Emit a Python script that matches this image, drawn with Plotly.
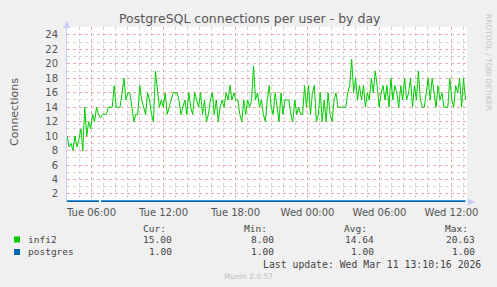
import pandas as pd
import plotly.graph_objects as go

# ---------------- data ----------------
infi2 = [
    10, 8.5, 9, 8, 10, 8.5, 9.5, 11, 8,
    14, 10, 12, 11, 13, 12, 14,
    13, 12.5, 13, 13, 13, 14, 14, 14,
    17, 14, 14, 14,
    16, 18, 15, 16, 16, 14,
    12, 13, 13,
    17, 15, 14, 13, 16, 15, 13, 12,
    19, 16, 14, 15, 14, 16, 13,
    14, 15, 16, 16, 16, 15, 13,
    14, 15, 13, 16, 14, 13, 16, 15, 14, 16, 13, 15,
    12, 13, 15, 16, 13, 15, 12, 14,
    15, 14, 16, 15, 17, 15, 16,
    15, 15, 13, 12, 15, 13, 15, 14, 15,
    19.7, 15, 16, 14, 15, 13, 12, 15, 17,
    14, 13, 16, 14, 12, 16, 13,
    15, 15, 15,
    13, 12, 15, 13, 14, 13, 13,
    17, 14, 17, 13, 16, 17, 12, 13, 16, 12, 15, 12, 16, 13, 12,
    15, 16, 14,
    14, 14, 14, 14,
    16, 17, 20.63, 16, 18, 15, 17,
    15, 17, 14, 16, 15,
    18, 16, 19, 17, 14, 16,
    17, 15, 17, 14, 18, 15, 17, 16, 14, 17, 15,
    18, 15, 16, 18, 14, 17, 15, 19,
    15, 14, 14, 16, 18, 15, 18,
    16, 14, 17, 15, 16, 14,
    14, 14, 18, 15,
    14, 17, 16, 18, 14, 18, 15,
]
postgres_times = ["2026-03-10 03:58", "2026-03-10 06:38", None,
                  "2026-03-10 06:48", "2026-03-11 13:10"]
postgres = [1, 1, None, 1, 1]

series_start = "2026-03-10 03:58"
series_end = "2026-03-11 13:10"
x_start = "2026-03-10 03:57:30"
x_end = "2026-03-11 13:17:30"
y_range = [0.88, 25.1]

title = "PostgreSQL connections per user - by day"
y_title = "Connections"
legend_names = ["infi2", "postgres"]
legend_colors = ["#00cc00", "#0066b3"]
stat_headers = ["Cur:", "Min:", "Avg:", "Max:"]
stats = [["15.00", "8.00", "14.64", "20.63"],
         ["1.00", "1.00", "1.00", "1.00"]]
last_update = "Last update: Wed Mar 11 13:10:16 2026"
footer = "Munin 2.0.57"
side_text = "RRDTOOL / TOBI OETIKER"

# ---------------- layout geometry ----------------
W, H = 497, 287
L, R, T, B = 67, 30, 27, 85
PW, PH = W - L - R, H - T - B


def px(x):
    return (x - L) / PW


def py(y):
    return (H - B - y) / PH


times = pd.date_range(series_start, series_end, periods=len(infi2))

fig = go.Figure()
fig.add_trace(go.Scatter(x=postgres_times, y=postgres, mode="lines",
                         line=dict(color=legend_colors[1], width=2),
                         connectgaps=False, hoverinfo="skip"))
fig.add_trace(go.Scatter(x=times, y=infi2, mode="lines",
                         line=dict(color=legend_colors[0], width=1),
                         hoverinfo="skip"))

grid_minor = "#d2d2d2"
grid_major = "#eda8a8"
font_main = "DejaVu Sans"
font_mono = "DejaVu Sans Mono"
txt = "#555555"

fig.update_layout(
    width=W, height=H,
    margin=dict(l=L, r=R, t=T, b=B, pad=0),
    paper_bgcolor="#f0f0f0", plot_bgcolor="#ffffff",
    showlegend=False,
    font=dict(family=font_main, size=10, color=txt),
    xaxis=dict(
        type="date", range=[x_start, x_end],
        tick0="2026-03-10 06:00", dtick=6 * 3600000,
        tickformat="%a %H:%M", ticks="", ticklabelstandoff=3,
        tickfont=dict(family=font_main, size=10, color=txt),
        showgrid=True, gridcolor=grid_major, griddash="dot", gridwidth=1,
        minor=dict(dtick=3600000, tick0="2026-03-10 06:00", showgrid=True,
                   gridcolor=grid_minor, griddash="dot", gridwidth=1),
        showline=False, zeroline=False, fixedrange=True,
    ),
    yaxis=dict(
        range=y_range, tick0=0, dtick=2, ticks="", ticklabelstandoff=6,
        tickfont=dict(family=font_main, size=10, color=txt),
        showgrid=True, gridcolor=grid_major, griddash="dot", gridwidth=1,
        minor=dict(dtick=1, tick0=0, showgrid=True,
                   gridcolor=grid_minor, griddash="dot", gridwidth=1),
        showline=True, linecolor="#c8ccff", linewidth=1,
        zeroline=False, fixedrange=True,
    ),
)

shapes = []
# axis arrows
shapes.append(dict(type="path", xref="paper", yref="paper",
                   path=f"M {px(63.5)} {py(28)} L {px(70.5)} {py(28)} L {px(67)} {py(21)} Z",
                   fillcolor="#c8ccff", line=dict(width=0)))
shapes.append(dict(type="path", xref="paper", yref="paper",
                   path=f"M {px(468)} {py(198.5)} L {px(468)} {py(205.5)} L {px(475)} {py(202)} Z",
                   fillcolor="#c8ccff", line=dict(width=0)))
# legend squares
for i, c in enumerate(legend_colors):
    cy = 239.5 + i * 12.5
    shapes.append(dict(type="rect", xref="paper", yref="paper",
                       x0=px(14), x1=px(20), y0=py(cy - 3), y1=py(cy + 3),
                       fillcolor=c, line=dict(width=0)))
fig.update_layout(shapes=shapes)

ann = []
ann.append(dict(text=title, x=px(250), y=py(19), xref="paper", yref="paper",
                showarrow=False, xanchor="center", yanchor="middle",
                font=dict(family=font_main, size=12.5, color="#555555")))
ann.append(dict(text=y_title, x=px(14), y=py(112), xref="paper", yref="paper",
                showarrow=False, textangle=-90, xanchor="center", yanchor="middle",
                font=dict(family=font_main, size=11, color="#555555")))
ann.append(dict(text=side_text, x=px(488), y=py(62), xref="paper", yref="paper",
                showarrow=False, textangle=90, xanchor="center", yanchor="middle",
                font=dict(family=font_main, size=7.5, color="#c4c4c4")))
hdr_right = [168, 269, 369, 470]
val_right = [174, 276, 376, 477]
for h, xr in zip(stat_headers, hdr_right):
    ann.append(dict(text=h, x=px(xr), y=py(228), xref="paper", yref="paper",
                    showarrow=False, xanchor="right", yanchor="middle",
                    font=dict(family=font_mono, size=9.5, color="#444444")))
for i, name in enumerate(legend_names):
    cy = 239.5 + i * 12.5
    ann.append(dict(text=name, x=px(26), y=py(cy), xref="paper", yref="paper",
                    showarrow=False, xanchor="left", yanchor="middle",
                    font=dict(family=font_mono, size=9.5, color="#444444")))
    for v, xr in zip(stats[i], val_right):
        ann.append(dict(text=v, x=px(xr), y=py(cy), xref="paper", yref="paper",
                        showarrow=False, xanchor="right", yanchor="middle",
                        font=dict(family=font_mono, size=9.5, color="#444444")))
ann.append(dict(text=last_update, x=px(483), y=py(264), xref="paper", yref="paper",
                showarrow=False, xanchor="right", yanchor="middle",
                font=dict(family=font_mono, size=9.8, color="#444444")))
ann.append(dict(text=footer, x=px(248), y=py(276.5), xref="paper", yref="paper",
                showarrow=False, xanchor="center", yanchor="middle",
                font=dict(family=font_main, size=7.5, color="#bdbdbd")))
fig.update_layout(annotations=ann)

fig.write_html("out.html", config=dict(displayModeBar=False, staticPlot=True))
